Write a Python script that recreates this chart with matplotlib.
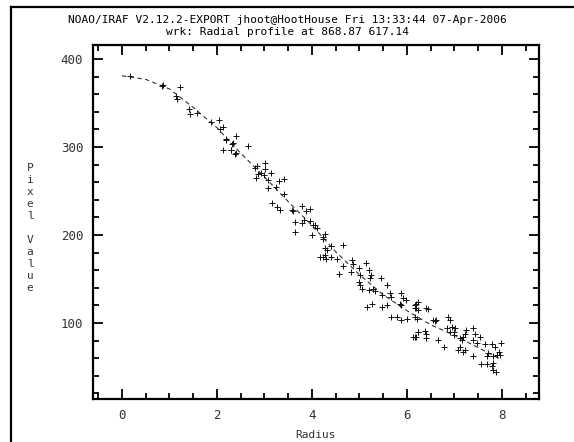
import matplotlib
matplotlib.use('Agg')
import matplotlib.pyplot as plt
from matplotlib.lines import Line2D
from matplotlib.ticker import MultipleLocator

# radial profile samples (radius, pixel value)
radius = [0.17, 0.87, 0.85, 1.22, 1.14, 1.15, 1.42, 1.43, 1.59, 1.87,
          2.05, 2.06, 2.12, 2.40, 2.19, 2.20, 2.13, 2.29, 2.40, 2.34,
          2.31, 2.29, 2.39, 2.65, 2.85, 2.81, 3.01, 3.01, 2.86, 2.93,
          2.82, 3.14, 2.99, 3.08, 3.08, 3.24, 3.31, 3.42, 3.42, 3.15,
          3.26, 3.33, 3.57, 3.61, 3.78, 3.87, 3.96, 3.64, 3.64, 3.83,
          3.80, 3.96, 4.03, 4.10, 4.07, 4.01, 4.24, 4.27, 4.31, 4.40,
          4.27, 4.17, 4.41, 4.30, 4.24, 4.65, 4.27, 4.41, 4.24, 4.52,
          4.65, 4.56, 4.84, 4.87, 4.82, 4.98, 5.01, 5.14, 5.21, 5.24,
          5.22, 5.00, 5.01, 5.05, 5.21, 5.29, 5.33, 5.45, 5.57, 5.47,
          5.64, 5.66, 5.87, 5.92, 5.98, 5.85, 5.87, 5.47, 5.57, 5.15,
          5.26, 5.66, 5.80, 5.88, 6.01, 6.17, 6.20, 6.24, 6.17, 6.24,
          6.13, 6.20, 6.20, 6.17, 6.24, 6.41, 6.45, 6.21, 6.55, 6.62,
          6.59, 6.24, 6.38, 6.41, 6.17, 6.41, 6.66, 6.77, 6.87, 6.91,
          6.84, 6.91, 6.98, 6.94, 7.01, 6.98, 7.12, 7.15, 7.19, 7.22,
          7.25, 7.12, 7.08, 7.19, 7.22, 7.40, 7.43, 7.54, 7.40, 7.47,
          7.40, 7.64, 7.78, 7.85, 7.99, 7.93, 7.89, 7.96, 7.71, 7.68,
          7.82, 7.55, 7.68, 7.82, 7.82, 7.78, 7.87]
pixval = [381, 371, 369, 368, 358, 355, 343, 338, 339, 329,
          331, 321, 323, 312, 309, 308, 297, 297, 293, 305,
          304, 297, 292, 301, 278, 276, 282, 275, 269, 270,
          265, 270, 268, 262, 253, 255, 261, 264, 247, 236,
          232, 229, 228, 227, 233, 227, 230, 215, 204, 217,
          214, 216, 211, 208, 211, 200, 198, 201, 183, 187,
          177, 175, 175, 173, 196, 189, 185, 187, 175, 173,
          165, 156, 172, 167, 158, 162, 155, 168, 160, 155,
          151, 147, 143, 139, 138, 139, 136, 151, 143, 132,
          134, 129, 134, 128, 126, 122, 121, 118, 120, 118,
          122, 107, 107, 103, 105, 120, 117, 124, 107, 90,
          84, 84, 122, 117, 115, 117, 116, 105, 103, 103,
          102, 90, 91, 88, 84, 83, 81, 73, 107, 103,
          94, 90, 90, 96, 94, 86, 83, 81, 84, 88,
          92, 73, 69, 67, 69, 94, 88, 84, 81, 77,
          62, 76, 76, 73, 77, 67, 64, 64, 66, 62,
          62, 53, 53, 54, 47, 51, 44]

# fitted profile (dashed)
fit_r = [0, 0.5, 1.0, 1.5, 2.0, 2.5, 3.0, 3.5, 4.0, 4.5, 5.0, 5.5, 6.0, 6.5, 7.0, 7.5, 8.0]
fit_v = [381, 377, 366, 345, 322, 293, 266, 238, 211, 181, 155, 132, 114, 98, 86, 72, 58]

title1 = 'NOAO/IRAF V2.12.2-EXPORT jhoot@HootHouse Fri 13:33:44 07-Apr-2006'
title2 = 'wrk: Radial profile at 868.87 617.14'

plt.rcParams['font.family'] = 'DejaVu Sans Mono'
txtcol = '#333333'

fig = plt.figure(figsize=(5.74, 4.42), dpi=100)
ax = fig.add_axes([93/574., 43/442., 446/574., 354/442.])

ax.plot(fit_r, fit_v, color='#333333', lw=0.8, dashes=(4, 3))
ax.plot(radius, pixval, '+', color='#111111', ms=4.5, mew=0.7)

ax.set_xlim(-0.61, 8.78)
ax.set_ylim(13.6, 416)
ax.xaxis.set_major_locator(MultipleLocator(2))
ax.xaxis.set_minor_locator(MultipleLocator(0.5))
ax.yaxis.set_major_locator(MultipleLocator(100))
ax.yaxis.set_minor_locator(MultipleLocator(20))
ax.tick_params(which='both', direction='in', top=True, right=True,
               width=1.3, color='black', labelcolor=txtcol, labelsize=9, pad=7)
ax.tick_params(which='major', length=7)
ax.tick_params(which='minor', length=4)
for s in ax.spines.values():
    s.set_linewidth(1.6)

# iraf style labels
fig.text(287/574., 1 - 20/442., title1, ha='center', va='center', fontsize=8, color='black')
fig.text(287/574., 1 - 32/442., title2, ha='center', va='center', fontsize=8, color='black')
fig.text(316/574., 1 - 435/442., 'Radius', ha='center', va='center', fontsize=8, color=txtcol)
fig.text(30/574., 1 - 228/442., '\n'.join('Pixel Value'), ha='center', va='center',
         fontsize=8, linespacing=1.25, color=txtcol)

# window frame, left and top edges
fig.add_artist(Line2D([11/574., 11/574.], [0, 1 - 7/442.], color='black', lw=1.6))
fig.add_artist(Line2D([11/574., 1], [1 - 7/442., 1 - 7/442.], color='black', lw=1.6))

fig.savefig('out.png', dpi=100)
